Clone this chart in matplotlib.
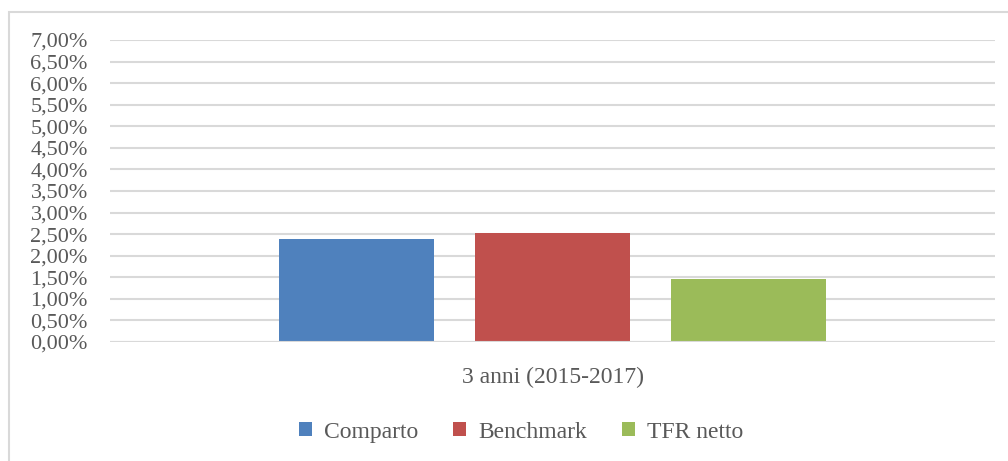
import matplotlib.pyplot as plt
from matplotlib.patches import Rectangle
from matplotlib.ticker import FuncFormatter, MultipleLocator

# Data
category = "3 anni (2015-2017)"
series = ["Comparto", "Benchmark", "TFR netto"]
values = [2.39, 2.53, 1.46]  # percent
colors = ["#4f81bd", "#c0504d", "#9bbb59"]

text_color = "#595959"
grid_color = "#d9d9d9"
plt.rcParams["font.family"] = ["Liberation Serif", "DejaVu Serif"]

fig = plt.figure(figsize=(10.08, 4.61), dpi=100)
ax = fig.add_axes([110 / 1008, 1 - 342 / 461, (995 - 110) / 1008, (342 - 40) / 461])

# outer chart border (Excel style)
fig.patches.append(Rectangle((9 / 1008, -0.05), 1.2, 1 - 12 / 461 + 0.05,
                             transform=fig.transFigure, fill=False,
                             edgecolor=grid_color, linewidth=1.5))

positions = [-1, 0, 1]
for pos, val, col, name in zip(positions, values, colors, series):
    ax.bar(pos, val, width=0.79, color=col, label=name, zorder=3)

ax.set_xlim(-2.26, 2.26)
ax.set_ylim(0, 7)
ax.yaxis.set_major_locator(MultipleLocator(0.5))
ax.yaxis.set_major_formatter(FuncFormatter(lambda v, _: f"{v:.2f}%".replace(".", ",")))
ax.grid(axis="y", color=grid_color, linewidth=1.5, zorder=0)
ax.axhline(0, color=grid_color, linewidth=1.5, zorder=4)

ax.set_xticks([0])
ax.set_xticklabels([category])
ax.tick_params(axis="y", length=0, colors=text_color, labelsize=16, pad=16)
ax.tick_params(axis="x", length=0, colors=text_color, labelsize=17, pad=18)
for s in ax.spines.values():
    s.set_visible(False)

ax.legend(loc="center", bbox_to_anchor=(521 / 1008, 1 - 432 / 461),
          bbox_transform=fig.transFigure, ncol=3, frameon=False,
          fontsize=17, labelcolor=text_color, handlelength=0.55,
          handleheight=0.55, handletextpad=0.5, columnspacing=1.5)

fig.savefig("out.png", dpi=100)
